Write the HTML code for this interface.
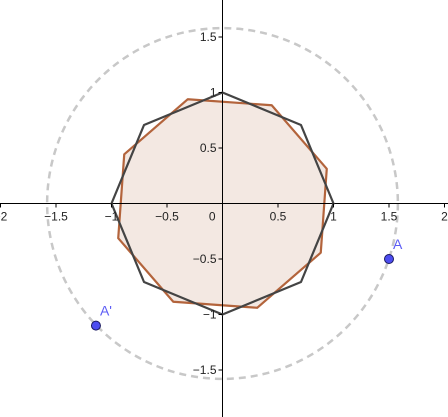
<!DOCTYPE html>
<html><head><meta charset="utf-8"><style>
html,body{margin:0;padding:0;background:#fff;}
svg{display:block;font-family:"Liberation Sans",Arial,sans-serif;}
</style></head><body>
<svg id="c" width="448" height="417" viewBox="0 0 448 417"></svg>
<script>
const xTicks=[-2,-1.5,-1,-0.5,0.5,1,1.5,2];
const yTicks=[-1.5,-1,-0.5,0.5,1,1.5];
const circleRadius=[1.58];
const octagonRadius=[1];
const octagonAngles=[90,45,0,-45,-90,-135,180,135];
const rotatedRadius=[0.99];
const rotatedAngles=[108.4,63.4,18.4,-26.6,-71.6,-116.6,-161.6,153.4];
const pointNames=["A","A'"];
const pointX=[1.5,-1.14];
const pointY=[-0.5,-1.1];

const ox=222.5, oy=203.5, u=111;
const sx=v=>ox+v*u, sy=v=>oy-v*u;
const svg=document.getElementById('c');
const NS='http://www.w3.org/2000/svg';
function mk(t,a,parent){const e=document.createElementNS(NS,t);for(const k in a)e.setAttribute(k,a[k]);(parent||svg).appendChild(e);return e;}

// dashed circle
let circ=mk('circle',{cx:sx(0),cy:sy(0),r:circleRadius[0]*u,fill:'none',stroke:'#c8c8c8','stroke-width':2.5,'stroke-dasharray':'7,5'});



// rotated polygon (brown)
let pts=rotatedAngles.map(a=>sx(rotatedRadius[0]*Math.cos(a*Math.PI/180))+','+sy(rotatedRadius[0]*Math.sin(a*Math.PI/180))).join(' ');
let rp=mk('polygon',{points:pts,fill:'#f3e8e2',stroke:'#b3643c','stroke-width':2.2,'stroke-linejoin':'round'});



// axes
let xa=mk('line',{x1:0,y1:oy,x2:448,y2:oy,stroke:'#000','stroke-width':1});


let ya=mk('line',{x1:ox,y1:0,x2:ox,y2:417,stroke:'#000','stroke-width':1});



// octagon (black)
pts=octagonAngles.map(a=>sx(octagonRadius[0]*Math.cos(a*Math.PI/180))+','+sy(octagonRadius[0]*Math.sin(a*Math.PI/180))).join(' ');
let op=mk('polygon',{points:pts,fill:'none',stroke:'#444','stroke-width':2.2,'stroke-linejoin':'round'});



xTicks.forEach(v=>{
  let t=mk('line',{x1:sx(v),y1:oy,x2:sx(v),y2:oy+4,stroke:'#000'});
  
  
  let l=mk('text',{x:sx(v),y:oy+17,'text-anchor':'middle','font-size':12,fill:'#222'});
  l.textContent=(v<0?'\u2212'+(-v):String(v));
  
  
});
yTicks.forEach(v=>{
  let t=mk('line',{x1:ox-4,y1:sy(v),x2:ox,y2:sy(v),stroke:'#000'});
  
  
  let l=mk('text',{x:ox-6,y:sy(v)+4,'text-anchor':'end','font-size':12,fill:'#222'});
  l.textContent=(v<0?'\u2212'+(-v):String(v));
  
  
});
let z=mk('text',{x:ox-7,y:oy+17,'text-anchor':'end','font-size':12,fill:'#222'});
z.textContent='0';



pointNames.forEach((n,i)=>{
  let c=mk('circle',{cx:sx(pointX[i]),cy:sy(pointY[i]),r:4.5,fill:'#4d4df0',stroke:'#1a1a60','stroke-width':1});
  
  
  let l=mk('text',{x:sx(pointX[i])+4,y:sy(pointY[i])-10,'font-size':14,fill:'#5c5cf5'});
  l.textContent=n;
  
  
});
</script>
</body></html>
